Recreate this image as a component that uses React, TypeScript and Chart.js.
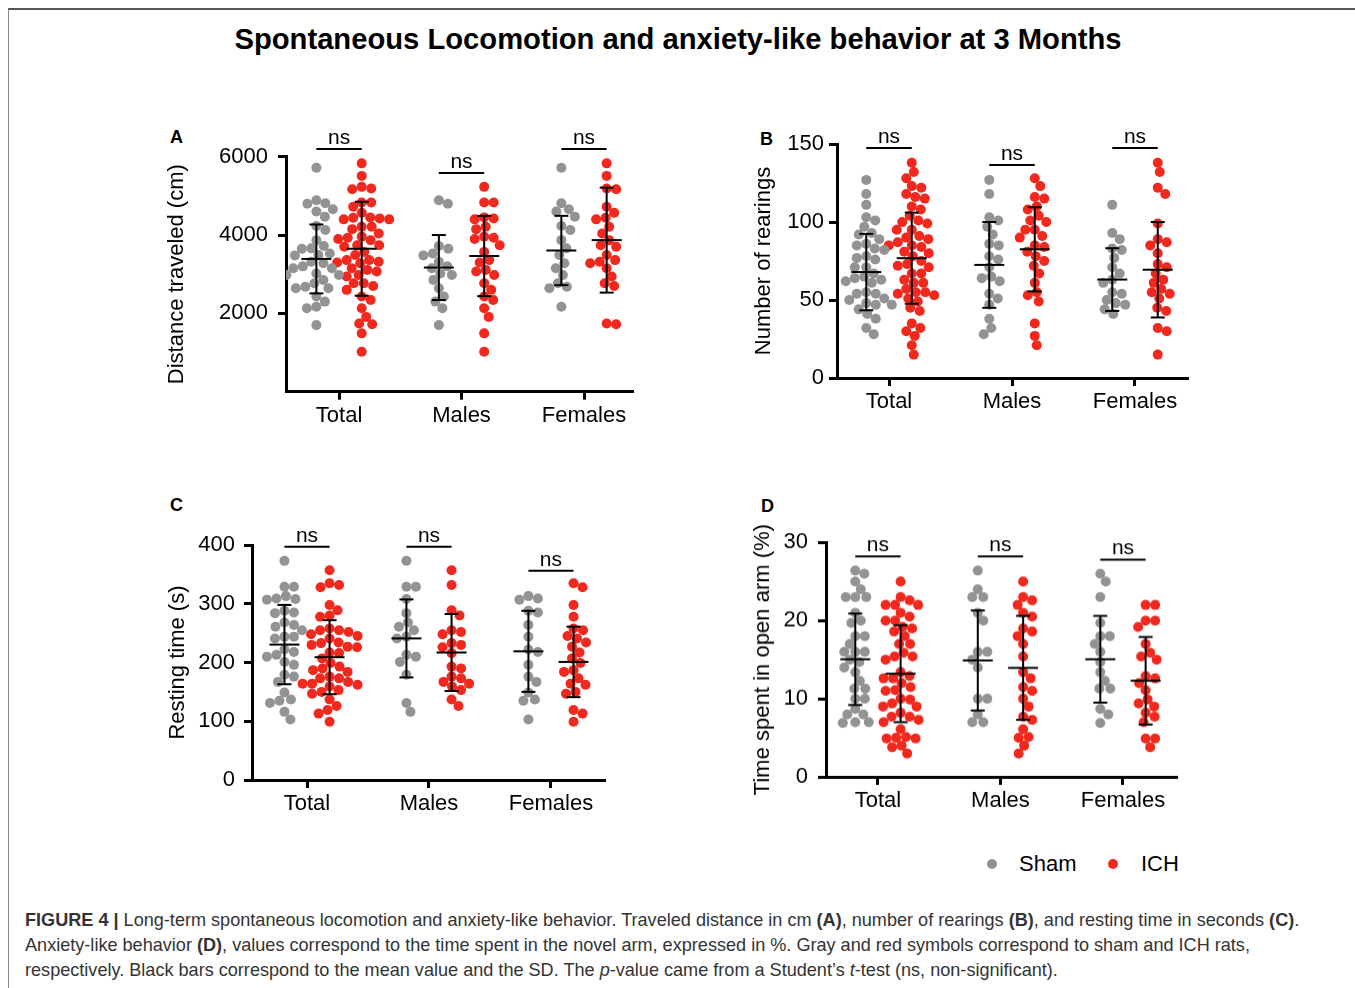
import { useEffect, useRef } from 'react';
import { Chart, registerables } from 'chart.js';

Chart.register(...registerables);

const FONT = "'Liberation Sans', Arial, Helvetica, sans-serif";
const SHAM_COLOR = '#939393';
const ICH_COLOR = '#f0281e';

const categories = ['Total', 'Males', 'Females'];
const groupNames = ['Sham', 'ICH'];

// ---------- Panel A: distance traveled (cm) ----------
const distMalesSham = [4890, 4800, 3720, 3650, 3530, 3480, 3320, 3200, 3150, 3020, 2980, 2850, 2640, 2430, 2300, 2130, 1700];
const distMalesIch = [5230, 4830, 4830, 4450, 4420, 4400, 4210, 4150, 3960, 3930, 3900, 3740, 3570, 3360, 3300, 3110, 3070, 2980, 2770, 2600, 2430, 2340, 2130, 1910, 1490, 1020];
const distFemalesSham = [5720, 4810, 4660, 4600, 4470, 4230, 4130, 3870, 3660, 3490, 3280, 3150, 2980, 2770, 2680, 2640, 2170];
const distFemalesIch = [5830, 5510, 5190, 5170, 4720, 4570, 4440, 4400, 4210, 4040, 3870, 3740, 3700, 3490, 3360, 3320, 3280, 3150, 2940, 2770, 2700, 1740, 1720];
const distShamMean = [3390, 3170, 3605];
const distShamSD = [880, 830, 885];
const distIchMean = [3650, 3465, 3870];
const distIchSD = [1200, 1025, 1340];
const distNs = [6196, 5583, 6196];
const distTicks = [2000, 4000, 6000];

// ---------- Panel B: number of rearings ----------
const rearMalesSham = [127, 118, 103, 101, 97, 92, 86, 85, 78, 76, 71, 65, 64, 62, 54, 51, 47, 38, 32, 28];
const rearMalesIch = [128, 123, 116, 115, 110, 108, 104, 101, 100, 95, 95, 91, 90, 85, 84, 81, 78, 75, 72, 67, 61, 55, 53, 49, 35, 27, 21];
const rearFemalesSham = [111, 93, 89, 83, 82, 77, 71, 67, 63, 61, 55, 54, 50, 48, 47, 44, 41];
const rearFemalesIch = [138, 132, 122, 118, 99, 89, 87, 85, 80, 73, 71, 67, 63, 61, 57, 55, 54, 51, 45, 43, 32, 30, 15];
const rearShamMean = [67.9, 72.5, 63.1];
const rearShamSD = [24.5, 27.5, 20.1];
const rearIchMean = [76.8, 82.5, 69.4];
const rearIchSD = [29.2, 27, 30.6];
const rearNs = [147.4, 136.5, 147.4];
const rearTicks = [0, 50, 100, 150];

// ---------- Panel C: resting time (s) ----------
const restMalesSham = [373, 329, 329, 308, 284, 268, 261, 255, 244, 241, 213, 210, 201, 179, 131, 116];
const restMalesIch = [357, 332, 289, 280, 255, 252, 248, 233, 230, 226, 216, 193, 190, 176, 173, 167, 164, 159, 153, 137, 126];
const restFemalesSham = [313, 309, 307, 288, 285, 264, 244, 222, 218, 196, 176, 167, 149, 137, 135, 103];
const restFemalesIch = [335, 328, 298, 278, 258, 255, 245, 241, 234, 227, 217, 207, 199, 187, 184, 173, 164, 162, 150, 147, 119, 113, 99];
const restShamMean = [230.5, 241, 219];
const restShamSD = [67.5, 66.4, 69];
const restIchMean = [209, 217, 201];
const restIchSD = [63, 65.5, 60];
const restNs = [397, 397, 356];
const restTicks = [0, 100, 200, 300, 400];

// ---------- Panel D: time spent in open arm (%) ----------
const openMalesSham = [26.4, 24, 23, 23, 21, 20, 16, 16, 15, 14, 10, 10, 8, 7, 7];
const openMalesIch = [25, 23, 22.6, 22, 21, 20.5, 19, 18.6, 18, 17, 15.4, 13.4, 12.6, 11.5, 11, 10, 9, 7.7, 7.3, 6.1, 5.1, 5, 4, 3];
const openFemalesSham = [26, 25, 23, 19.7, 18, 18, 17, 16, 14.7, 13.4, 12.3, 11.3, 11.3, 8.7, 8, 6.9];
const openFemalesIch = [22, 22, 20, 20, 19.2, 17, 15.9, 15.4, 15, 12.9, 12.6, 12, 11.1, 9.9, 9.4, 9, 8.2, 7.7, 7, 4.9, 4.9, 3.8];
const openShamMean = [15.05, 14.9, 15.05];
const openShamSD = [5.85, 6.4, 5.55];
const openIchMean = [13.2, 13.95, 12.3];
const openIchSD = [6.2, 6.65, 5.6];
const openNs = [28.2, 28.2, 27.8];
const openTicks = [0, 10, 20, 30];

type PanelDef = {
  title: string;
  sham: number[][];
  ich: number[][];
  shamMean: number[];
  shamSD: number[];
  ichMean: number[];
  ichSD: number[];
  ns: number[];
  ticks: number[];
  layout: {
    left: number; top: number; w: number; h: number;
    axisW: number; axisH: number; padTop: number; padRight: number;
    xMin: number; xMax: number; yMax: number; unit: number; tickPad: number; xPad: number;
  };
};

const panels: PanelDef[] = [
  {
    title: 'Distance traveled (cm)',
    sham: [[...distMalesSham, ...distFemalesSham], distMalesSham, distFemalesSham],
    ich: [[...distMalesIch, ...distFemalesIch], distMalesIch, distFemalesIch],
    shamMean: distShamMean, shamSD: distShamSD, ichMean: distIchMean, ichSD: distIchSD,
    ns: distNs, ticks: distTicks,
    layout: { left: 164, top: 110, w: 479, h: 330, axisW: 122, axisH: 48.3, padTop: 46.7, padRight: 10, xMin: -0.433, xMax: 2.4, yMax: 6000, unit: 122.5, tickPad: 10, xPad: 3 },
  },
  {
    title: 'Number of rearings',
    sham: [[...rearMalesSham, ...rearFemalesSham], rearMalesSham, rearFemalesSham],
    ich: [[...rearMalesIch, ...rearFemalesIch], rearMalesIch, rearFemalesIch],
    shamMean: rearShamMean, shamSD: rearShamSD, ichMean: rearIchMean, ichSD: rearIchSD,
    ns: rearNs, ticks: rearTicks,
    layout: { left: 751, top: 100, w: 447, h: 328, axisW: 86, axisH: 50, padTop: 44, padRight: 10, xMin: -0.423, xMax: 2.431, yMax: 150, unit: 123, tickPad: 5, xPad: 3 },
  },
  {
    title: 'Resting time (s)',
    sham: [[...restMalesSham, ...restFemalesSham], restMalesSham, restFemalesSham],
    ich: [[...restMalesIch, ...restFemalesIch], restMalesIch, restFemalesIch],
    shamMean: restShamMean, shamSD: restShamSD, ichMean: restIchMean, ichSD: restIchSD,
    ns: restNs, ticks: restTicks,
    layout: { left: 165, top: 500, w: 450, h: 330, axisW: 87, axisH: 50, padTop: 45, padRight: 10, xMin: -0.451, xMax: 2.443, yMax: 400, unit: 122, tickPad: 9, xPad: 2.5 },
  },
  {
    title: 'Time spent in open arm (%)',
    sham: [[...openMalesSham, ...openFemalesSham], openMalesSham, openFemalesSham],
    ich: [[...openMalesIch, ...openFemalesIch], openMalesIch, openFemalesIch],
    shamMean: openShamMean, shamSD: openShamSD, ichMean: openIchMean, ichSD: openIchSD,
    ns: openNs, ticks: openTicks,
    layout: { left: 750, top: 500, w: 437, h: 326.7, axisW: 76, axisH: 50, padTop: 42.3, padRight: 10, xMin: -0.424, xMax: 2.441, yMax: 30, unit: 122.5, tickPad: 10, xPad: 3 },
  },
];

const GROUP_OFFSET = 0.185;

// Beeswarm layout of one group: offsets in pixels, converted back to x units
function swarm(values: number[], center: number, pxX: number, pxY: number, sep: number) {
  const order = values.map((_, i) => i).sort((a, b) => values[b] - values[a]);
  const placed: { x: number; y: number }[] = [];
  const out: { x: number; y: number }[] = new Array(values.length);
  for (const i of order) {
    const yp = values[i] * pxY;
    let off = 0;
    for (let k = 0; k < 400; k++) {
      const o = k === 0 ? 0 : (k % 2 === 1 ? 1 : -1) * Math.ceil(k / 2) * 0.5;
      if (placed.every((p) => (p.x - o) ** 2 + (p.y - yp) ** 2 >= sep * sep)) {
        off = o;
        break;
      }
    }
    placed.push({ x: off, y: yp });
    out[i] = { x: center + off / pxX, y: values[i] };
  }
  return out;
}

function makeOverlay(p: PanelDef) {
  return {
    id: 'overlay',
    afterDatasetsDraw(chart: any) {
      const { ctx, scales } = chart;
      const x = scales.x;
      const y = scales.y;
      ctx.save();
      ctx.strokeStyle = '#000';
      ctx.lineWidth = 2;
      ctx.lineCap = 'butt';
      const seg = (x1: number, y1: number, x2: number, y2: number) => {
        ctx.beginPath();
        ctx.moveTo(x1, y1);
        ctx.lineTo(x2, y2);
        ctx.stroke();
      };
      categories.forEach((_, i) => {
        const groups = [
          { off: -GROUP_OFFSET, m: p.shamMean[i], s: p.shamSD[i] },
          { off: GROUP_OFFSET, m: p.ichMean[i], s: p.ichSD[i] },
        ];
        groups.forEach((g) => {
          const cx = x.getPixelForValue(i + g.off);
          const ym = y.getPixelForValue(g.m);
          const yh = y.getPixelForValue(g.m + g.s);
          const yl = y.getPixelForValue(g.m - g.s);
          seg(cx - 15, ym, cx + 15, ym);
          seg(cx, yh, cx, yl);
          seg(cx - 7, yh, cx + 7, yh);
          seg(cx - 7, yl, cx + 7, yl);
        });
        const ny = y.getPixelForValue(p.ns[i]);
        const x1 = x.getPixelForValue(i - GROUP_OFFSET);
        const x2 = x.getPixelForValue(i + GROUP_OFFSET);
        seg(x1, ny, x2, ny);
        ctx.fillStyle = '#000';
        ctx.font = `21px ${FONT}`;
        ctx.textAlign = 'center';
        ctx.textBaseline = 'alphabetic';
        ctx.fillText('ns', x.getPixelForValue(i), ny - 5);
      });
      ctx.restore();
    },
  };
}

function Panel({ p }: { p: PanelDef }) {
  const ref = useRef<HTMLCanvasElement>(null);
  const L = p.layout;
  useEffect(() => {
    const plotH = L.h - L.padTop - L.axisH;
    const pxY = plotH / L.yMax;
    const shamData: any[] = [];
    const ichData: any[] = [];
    categories.forEach((_, i) => {
      shamData.push(...swarm(p.sham[i], i - GROUP_OFFSET, L.unit, pxY, 9.5));
      ichData.push(...swarm(p.ich[i], i + GROUP_OFFSET, L.unit, pxY, 9.5));
    });
    const chart = new Chart(ref.current!, {
      type: 'scatter',
      data: {
        datasets: [
          { label: groupNames[0], data: shamData, pointRadius: 5, pointHoverRadius: 5, pointBackgroundColor: SHAM_COLOR, pointBorderWidth: 0, borderWidth: 0 },
          { label: groupNames[1], data: ichData, pointRadius: 5, pointHoverRadius: 5, pointBackgroundColor: ICH_COLOR, pointBorderWidth: 0, borderWidth: 0 },
        ],
      },
      options: {
        animation: false,
        responsive: false,
        events: [],
        layout: { padding: { top: L.padTop, right: L.padRight, left: 0, bottom: 0 } },
        plugins: { legend: { display: false }, tooltip: { enabled: false }, title: { display: false } },
        scales: {
          x: {
            type: 'linear',
            min: L.xMin,
            max: L.xMax,
            afterBuildTicks: (s: any) => {
              s.ticks = categories.map((_, i) => ({ value: i }));
            },
            afterFit: (s: any) => {
              s.height = L.axisH;
            },
            ticks: {
              callback: (v: any) => categories[v as number] ?? '',
              color: '#000',
              font: { family: FONT, size: 22 },
              padding: L.xPad,
              maxRotation: 0,
              autoSkip: false,
            },
            grid: { display: true, drawOnChartArea: false, drawTicks: true, tickLength: 8, tickWidth: 3, tickColor: '#000' },
            border: { display: true, color: '#000', width: 3 },
          },
          y: {
            type: 'linear',
            min: 0,
            max: L.yMax,
            afterBuildTicks: (s: any) => {
              s.ticks = p.ticks.map((v) => ({ value: v }));
            },
            afterFit: (s: any) => {
              s.width = L.axisW;
            },
            ticks: {
              color: '#000',
              font: { family: FONT, size: 22 },
              padding: L.tickPad,
              callback: (v: any) => String(v),
            },
            grid: { display: true, drawOnChartArea: false, drawTicks: true, tickLength: 8, tickWidth: 3, tickColor: '#000' },
            border: { display: true, color: '#000', width: 3 },
            title: { display: true, text: p.title, color: '#000', font: { family: FONT, size: 22 }, padding: 0 },
          },
        },
      },
      plugins: [makeOverlay(p)],
    } as any);
    return () => chart.destroy();
  }, []);
  return (
    <canvas
      ref={ref}
      width={L.w}
      height={L.h}
      style={{ position: 'absolute', left: L.left, top: L.top, width: L.w, height: L.h }}
    />
  );
}

const letters = [
  { t: 'A', left: 170, top: 127.7 },
  { t: 'B', left: 760, top: 129.7 },
  { t: 'C', left: 170, top: 495.7 },
  { t: 'D', left: 761, top: 496.7 },
];

export default function App() {
  return (
    <div style={{ position: 'absolute', left: 0, top: 0, width: 1355, height: 988, overflow: 'hidden', background: '#fff', fontFamily: FONT, color: '#000' }}>
      <div style={{ position: 'absolute', left: 8, top: 8, width: 1400, height: 1100, borderTop: '2px solid #555', borderLeft: '1px solid #888' }} />
      <div style={{ position: 'absolute', left: 0, top: 24.5, width: 1356, textAlign: 'center', fontSize: 29.2, lineHeight: '29px', fontWeight: 'bold', whiteSpace: 'nowrap' }}>
        Spontaneous Locomotion and anxiety-like behavior at 3 Months
      </div>
      {letters.map((l) => (
        <div key={l.t} style={{ position: 'absolute', left: l.left, top: l.top, fontSize: 18, lineHeight: '18px', fontWeight: 'bold' }}>{l.t}</div>
      ))}
      {panels.map((p, i) => (
        <Panel key={i} p={p} />
      ))}
      <div style={{ position: 'absolute', left: 987, top: 859, width: 10, height: 10, borderRadius: 5, background: SHAM_COLOR }} />
      <div style={{ position: 'absolute', left: 1019, top: 853.3, fontSize: 22, lineHeight: '22px' }}>{groupNames[0]}</div>
      <div style={{ position: 'absolute', left: 1108, top: 859, width: 10, height: 10, borderRadius: 5, background: ICH_COLOR }} />
      <div style={{ position: 'absolute', left: 1141, top: 853.3, fontSize: 22, lineHeight: '22px' }}>{groupNames[1]}</div>
      <div style={{ position: 'absolute', left: 25, top: 907.5, fontSize: 18.1, lineHeight: '25px', color: '#333', whiteSpace: 'nowrap' }}>
        <div><b>FIGURE 4 |</b> Long-term spontaneous locomotion and anxiety-like behavior. Traveled distance in cm <b>(A)</b>, number of rearings <b>(B)</b>, and resting time in seconds <b>(C)</b>.</div>
        <div>Anxiety-like behavior <b>(D)</b>, values correspond to the time spent in the novel arm, expressed in %. Gray and red symbols correspond to sham and ICH rats,</div>
        <div>respectively. Black bars correspond to the mean value and the SD. The <i>p</i>-value came from a Student’s <i>t</i>-test (ns, non-significant).</div>
      </div>
    </div>
  );
}
